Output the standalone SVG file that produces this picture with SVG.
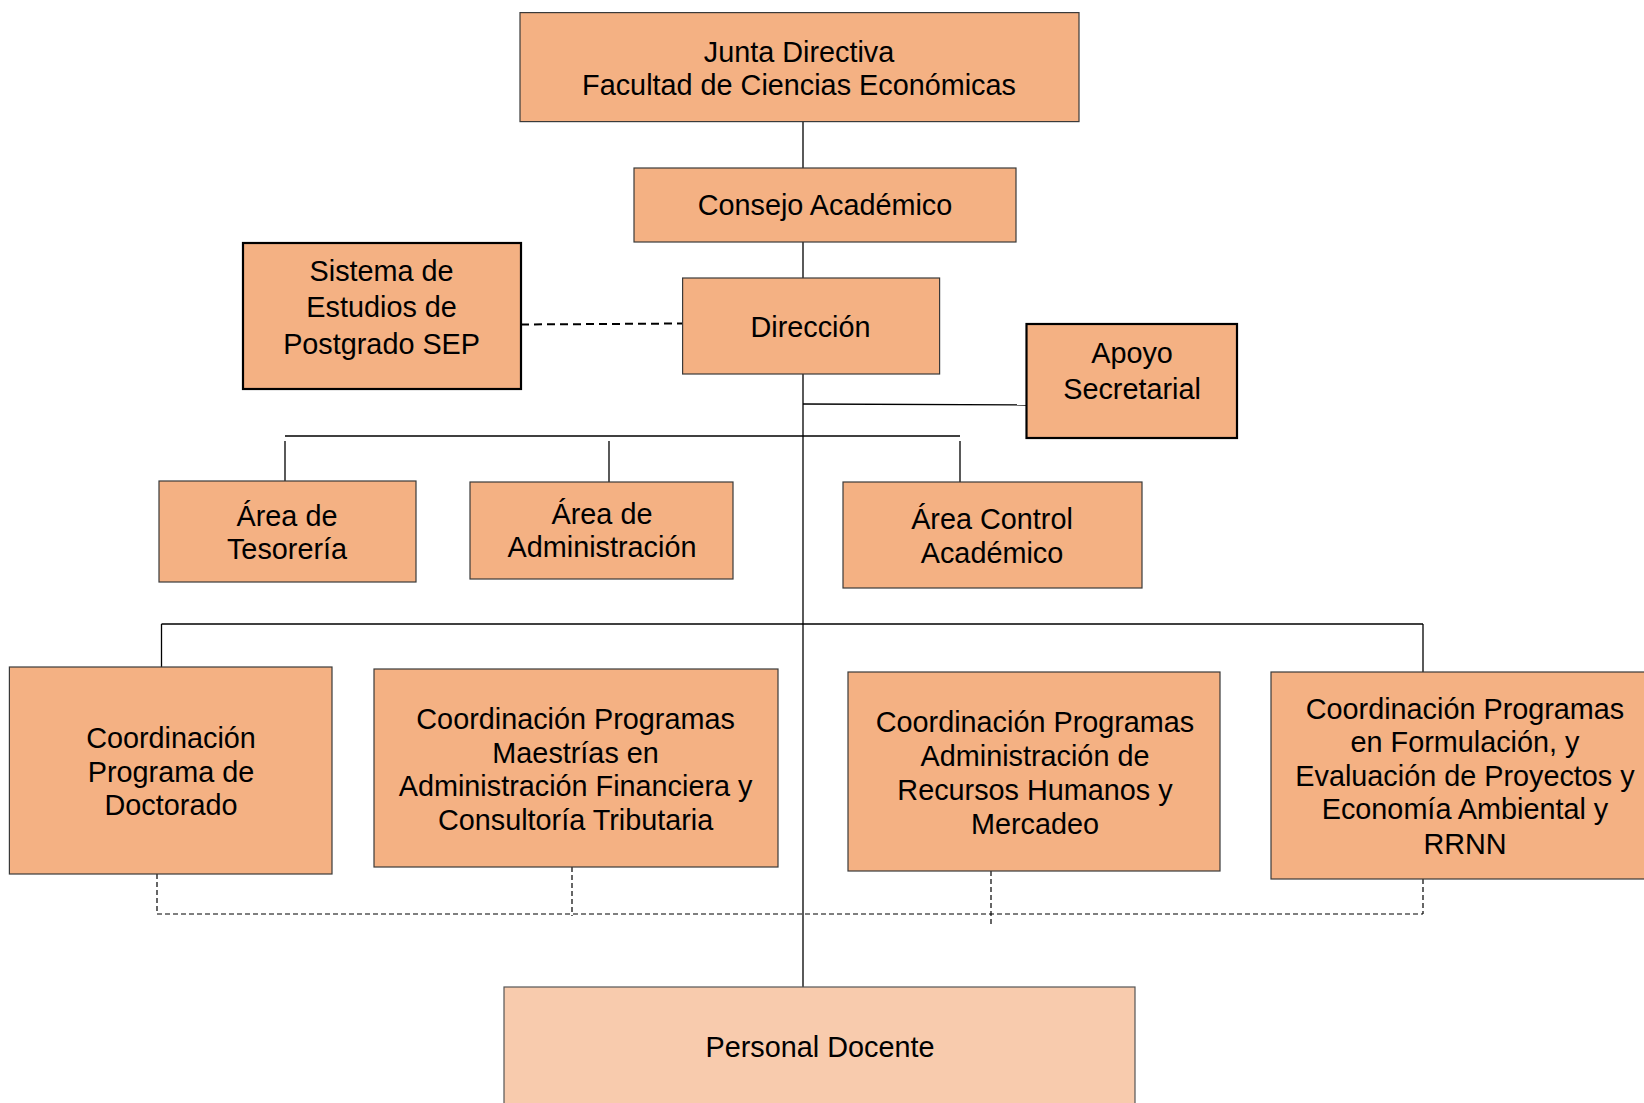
<svg xmlns="http://www.w3.org/2000/svg" width="1644" height="1103" viewBox="0 0 1644 1103">
<style>
  .box { fill: #F4B183; stroke: #3a3a3a; stroke-width: 1.2; }
  .boxb { fill: #F4B183; stroke: #000; stroke-width: 2.2; }
  .boxl { fill: #F8CBAD; stroke: #555; stroke-width: 1.2; }
  .t { font-family: "Liberation Sans", Arial, sans-serif; font-size: 28.8px; fill: #000; text-anchor: middle; }
  .ln { stroke: #000; stroke-width: 1.3; fill: none; }
  .dl { stroke: #000; stroke-width: 2; fill: none; stroke-dasharray: 8 5; }
  .dd { stroke: #000; stroke-width: 1.2; fill: none; stroke-dasharray: 5 3; }
</style>
<rect width="1644" height="1103" fill="#fff"/>
<g id="connectors">
  <line class="ln" x1="803" y1="121.6" x2="803" y2="168"/>
  <line class="ln" x1="803" y1="242" x2="803" y2="278"/>
  <line class="ln" x1="803" y1="374" x2="803" y2="987"/>
  <line class="dl" x1="521" y1="324.5" x2="682.6" y2="323.5"/>
  <line class="ln" x1="803" y1="404" x2="1026.5" y2="405"/>
  <line class="ln" x1="285" y1="436" x2="960" y2="436"/>
  <line class="ln" x1="285" y1="441" x2="285" y2="481"/>
  <line class="ln" x1="609" y1="441" x2="609" y2="482"/>
  <line class="ln" x1="960" y1="441" x2="960" y2="482"/>
  <line class="ln" x1="161.5" y1="624" x2="1423" y2="624"/>
  <line class="ln" x1="161.5" y1="624" x2="161.5" y2="667"/>
  <line class="ln" x1="1423" y1="624" x2="1423" y2="672"/>
  <line class="dd" x1="157" y1="914" x2="1423" y2="914"/>
  <line class="dd" x1="157" y1="874" x2="157" y2="914"/>
  <line class="dd" x1="572" y1="867" x2="572" y2="916"/>
  <line class="dd" x1="991" y1="871" x2="991" y2="925"/>
  <line class="dd" x1="1423" y1="879" x2="1423" y2="914"/>
</g>
<g id="junta">
  <rect class="box" x="520" y="12.6" width="559" height="109"/>
  <text class="t"><tspan x="799" y="61.5">Junta Directiva</tspan><tspan x="799" y="95">Facultad de Ciencias Económicas</tspan></text>
</g>
<g id="consejo">
  <rect class="box" x="634" y="168" width="382" height="74"/>
  <text class="t"><tspan x="825" y="214.5">Consejo Académico</tspan></text>
</g>
<g id="sistema">
  <rect class="boxb" x="243" y="243" width="278" height="146"/>
  <text class="t"><tspan x="381.6" y="280.5">Sistema de</tspan><tspan x="381.6" y="317">Estudios de</tspan><tspan x="381.6" y="354">Postgrado SEP</tspan></text>
</g>
<g id="direccion">
  <rect class="box" x="682.6" y="278" width="257" height="96"/>
  <text class="t"><tspan x="810.5" y="337">Dirección</tspan></text>
</g>
<g id="apoyo">
  <rect class="boxb" x="1026.5" y="324" width="210.5" height="114"/>
  <text class="t"><tspan x="1132" y="363">Apoyo</tspan><tspan x="1132" y="399">Secretarial</tspan></text>
</g>
<g id="tesoreria">
  <rect class="box" x="159" y="481" width="257" height="101"/>
  <text class="t"><tspan x="287" y="526">Área de</tspan><tspan x="287" y="559">Tesorería</tspan></text>
</g>
<g id="administracion">
  <rect class="box" x="470" y="482" width="263" height="97"/>
  <text class="t"><tspan x="602" y="524">Área de</tspan><tspan x="602" y="557">Administración</tspan></text>
</g>
<g id="control">
  <rect class="box" x="843" y="482" width="299" height="106"/>
  <text class="t"><tspan x="992" y="529">Área Control</tspan><tspan x="992" y="563">Académico</tspan></text>
</g>
<g id="doctorado">
  <rect class="box" x="9.4" y="667" width="322.6" height="207"/>
  <text class="t"><tspan x="171" y="748">Coordinación</tspan><tspan x="171" y="782">Programa de</tspan><tspan x="171" y="815">Doctorado</tspan></text>
</g>
<g id="maestrias">
  <rect class="box" x="374" y="669" width="404" height="198"/>
  <text class="t"><tspan x="575.6" y="729">Coordinación Programas</tspan><tspan x="575.6" y="763">Maestrías en</tspan><tspan x="575.6" y="796">Administración Financiera y</tspan><tspan x="575.6" y="830">Consultoría Tributaria</tspan></text>
</g>
<g id="rrhh">
  <rect class="box" x="848" y="672" width="372" height="199"/>
  <text class="t"><tspan x="1035" y="732">Coordinación Programas</tspan><tspan x="1035" y="766">Administración de</tspan><tspan x="1035" y="800">Recursos Humanos y</tspan><tspan x="1035" y="834">Mercadeo</tspan></text>
</g>
<g id="formulacion">
  <rect class="box" x="1271" y="672" width="380" height="207"/>
  <text class="t"><tspan x="1465" y="719">Coordinación Programas</tspan><tspan x="1465" y="752">en Formulación, y</tspan><tspan x="1465" y="786">Evaluación de Proyectos y</tspan><tspan x="1465" y="819">Economía Ambiental y</tspan><tspan x="1465" y="854">RRNN</tspan></text>
</g>
<g id="personal">
  <rect class="boxl" x="504" y="987" width="631" height="130"/>
  <text class="t"><tspan x="820" y="1057">Personal Docente</tspan></text>
</g>
</svg>
